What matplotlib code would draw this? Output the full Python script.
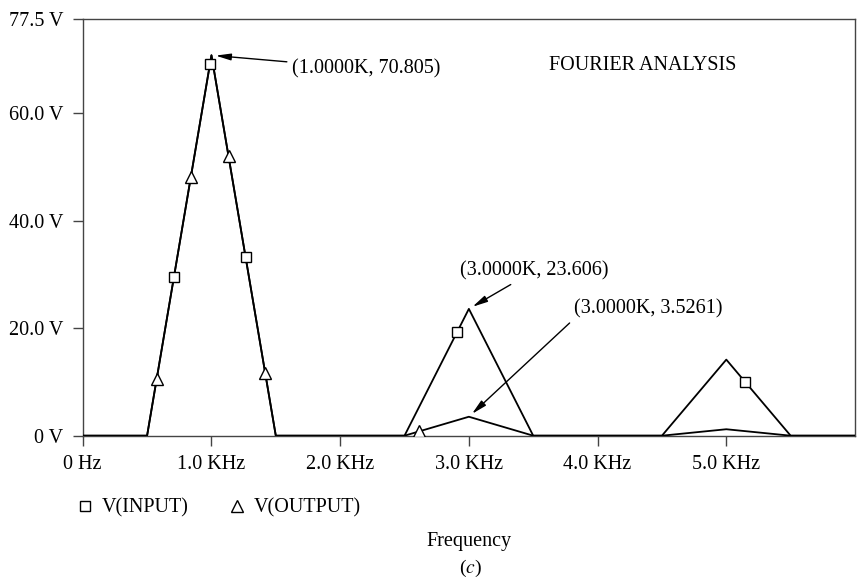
import matplotlib.pyplot as plt
import numpy as np
from matplotlib.lines import Line2D

plt.rcParams["font.family"] = ["Liberation Serif", "DejaVu Serif"]
plt.rcParams["mathtext.fontset"] = "stix"

# Fourier bins (Hz) and magnitudes (V)
FREQ_HZ = [0, 500, 1000, 1500, 2000, 2500, 3000, 3500, 4000, 4500, 5000, 5500, 6000]
V_INPUT = [0, 0, 70.805, 0, 0, 0, 23.606, 0, 0, 0, 14.16, 0, 0]
V_OUTPUT = [0, 0, 70.805, 0, 0, 0, 3.5261, 0, 0, 0, 1.2, 0, 0]

# frequencies where the trace symbols are drawn
INPUT_MARKER_HZ = [708, 988, 1265, 2909, 5146]
OUTPUT_MARKER_HZ = [574, 840, 1133, 1417, 2611]

X_TICKS = [0, 1000, 2000, 3000, 4000, 5000]
X_TICK_LABELS = ["0 Hz", "1.0 KHz", "2.0 KHz", "3.0 KHz", "4.0 KHz", "5.0 KHz"]
Y_TICKS = [0, 20, 40, 60, 77.5]
Y_TICK_LABELS = ["0 V", "20.0 V", "40.0 V", "60.0 V", "77.5 V"]

FS = 14.5
ARROW = dict(arrowstyle="-|>,head_length=0.9,head_width=0.2", color="black",
             lw=1.0, mutation_scale=10, shrinkA=2, shrinkB=3)


def draw_trace(ax, values, marker_hz, marker, ms):
    ax.plot(FREQ_HZ, values, color="black", lw=1.3, zorder=3)
    my = np.interp(marker_hz, FREQ_HZ, values)
    ax.plot(marker_hz, my, ls="none", marker=marker, ms=ms, mfc="white",
            mec="black", mew=1.0, zorder=4)


def main():
    fig = plt.figure(figsize=(8.6, 5.81), dpi=100)
    ax = fig.add_axes([0.0962, 0.2501, 0.8980, 0.7167])

    draw_trace(ax, V_INPUT, INPUT_MARKER_HZ, "s", 6.5)
    draw_trace(ax, V_OUTPUT, OUTPUT_MARKER_HZ, "^", 8)

    ax.set_xlim(0, 6000)
    ax.set_ylim(0, 77.5)
    ax.set_xticks(X_TICKS, X_TICK_LABELS)
    ax.set_yticks(Y_TICKS, Y_TICK_LABELS)
    ax.tick_params(direction="out", length=7, width=1, labelsize=FS, color="#444444")
    ax.tick_params(axis="x", pad=7)
    ax.tick_params(axis="y", pad=7)
    for sp in ax.spines.values():
        sp.set_color("#444444")
        sp.set_linewidth(1.0)

    ax.set_xlabel("Frequency", fontsize=FS, labelpad=42)

    ax.text(3625, 68.9, "FOURIER ANALYSIS", fontsize=FS, ha="left", va="center")

    ax.annotate("(1.0000K, 70.805)", xy=(1000, 70.805), xytext=(1629, 68.3),
                fontsize=FS, ha="left", va="center", arrowprops=ARROW)
    ax.annotate("(3.0000K, 23.606)", xy=(3000, 23.606), xytext=(2933, 30.7),
                fontsize=FS, ha="left", va="center", arrowprops=ARROW)
    ax.annotate("(3.0000K, 3.5261)", xy=(3000, 3.5261), xytext=(3820, 23.6),
                fontsize=FS, ha="left", va="center",
                arrowprops=dict(ARROW, relpos=(0.0, 0.0)))

    handles = [
        Line2D([], [], ls="none", marker="s", ms=7, mfc="white", mec="black", mew=1.0),
        Line2D([], [], ls="none", marker="^", ms=8, mfc="white", mec="black", mew=1.0),
    ]
    fig.legend(handles, ["V(INPUT)", "V(OUTPUT)"], loc="center left",
               bbox_to_anchor=(0.0663, 1 - 508 / 581), ncol=2, frameon=False,
               fontsize=FS, handlelength=1.0, handletextpad=0.33, columnspacing=1.88)

    fig.text(0.5465, 1 - 568 / 581, "($c$)", fontsize=FS - 0.5, ha="center", va="center")

    fig.savefig("out.png", dpi=100)
    plt.close(fig)


if __name__ == "__main__":
    main()
